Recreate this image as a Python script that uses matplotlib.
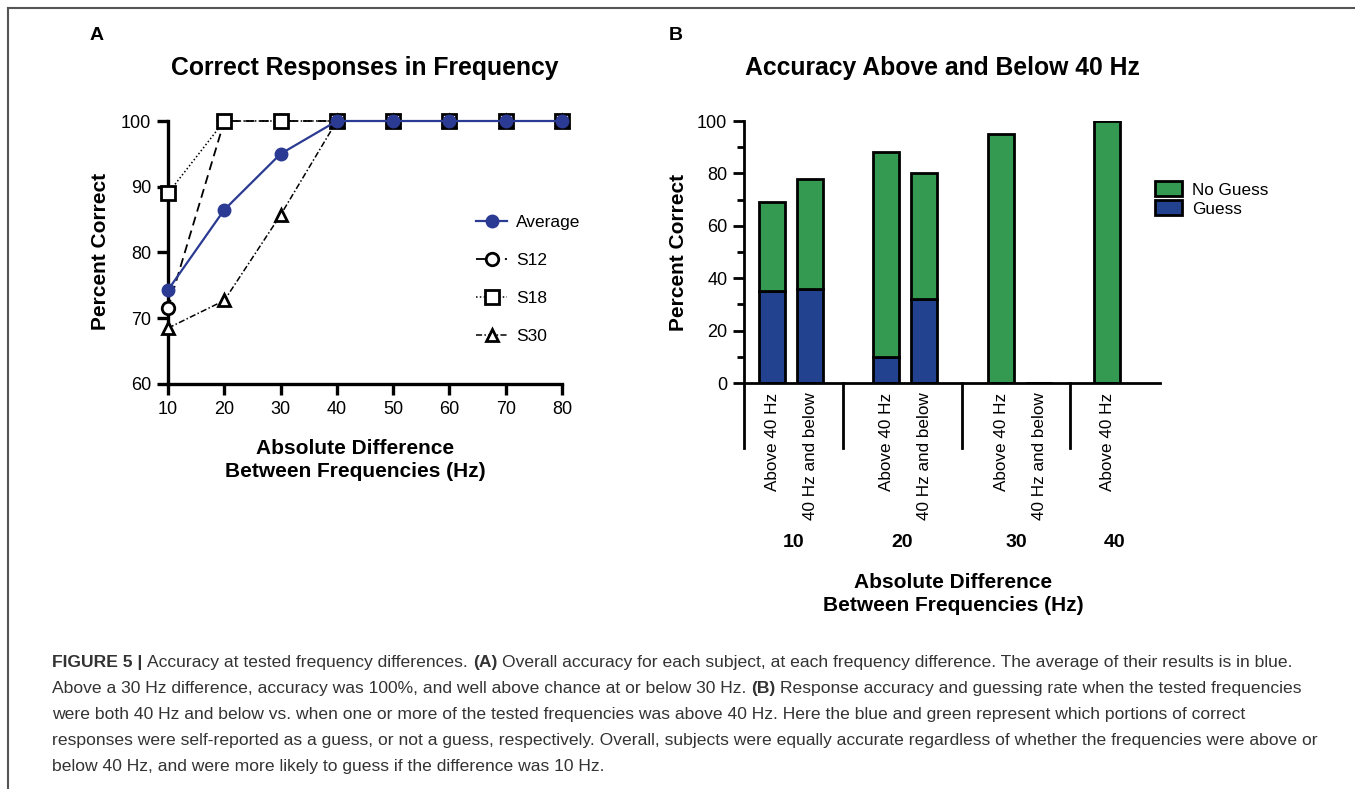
import matplotlib
matplotlib.use('Agg')
import matplotlib.pyplot as plt
from matplotlib.lines import Line2D
from matplotlib.patches import Patch
from matplotlib.transforms import blended_transform_factory

plt.rcParams['font.family'] = ['Liberation Sans', 'DejaVu Sans']

# ---- panel A data
freq_diff = [10, 20, 30, 40, 50, 60, 70, 80]
average = [74.3, 86.5, 95.0, 100, 100, 100, 100, 100]
s12 = [71.5, 100, 100, 100, 100, 100, 100, 100]
s18 = [89.0, 100, 100, 100, 100, 100, 100, 100]
s30 = [68.5, 72.7, 85.7, 100, 100, 100, 100, 100]

# ---- panel B data
bar_labels = ['Above 40 Hz', '40 Hz and below', 'Above 40 Hz', '40 Hz and below',
              'Above 40 Hz', '40 Hz and below', 'Above 40 Hz']
group_labels = ['10', '20', '30', '40']
guess = [35, 36, 10, 32, 0, 0, 0]
no_guess = [34, 42, 78, 48, 95, 0, 100]

# layout of the grouped bars (x positions in bar slots)
bar_pos = [0, 1, 3, 4, 6.03, 7.03, 8.82]
separators = [-0.74, 1.87, 5.0, 7.84]
x_right = 10.21

caption = [
    [("FIGURE 5 |", True), ("Accuracy at tested frequency differences.", False), ("(A)", True),
     ("Overall accuracy for each subject, at each frequency difference. The average of their results is in blue.", False)],
    [("Above a 30 Hz difference, accuracy was 100%, and well above chance at or below 30 Hz.", False), ("(B)", True),
     ("Response accuracy and guessing rate when the tested frequencies", False)],
    [("were both 40 Hz and below vs. when one or more of the tested frequencies was above 40 Hz. "
      "Here the blue and green represent which portions of correct", False)],
    [("responses were self-reported as a guess, or not a guess, respectively. Overall, subjects were "
      "equally accurate regardless of whether the frequencies were above or", False)],
    [("below 40 Hz, and were more likely to guess if the difference was 10 Hz.", False)],
]

green = '#349A52'
blue = '#22428F'
avg_blue = '#2B3A92'
W, H = 1355, 789

fig = plt.figure(figsize=(W / 100, H / 100), dpi=100)

# outer frame (left + top)
fig.add_artist(Line2D([8 / W, 8 / W], [0, 1 - 8 / H], color='#555555', lw=1.5))
fig.add_artist(Line2D([8 / W, 1], [1 - 8 / H, 1 - 8 / H], color='#555555', lw=1.5))

# ================= panel A
axA = fig.add_axes([168 / W, 1 - 384 / H, (562 - 168) / W, (384 - 121) / H])
axA.plot(freq_diff, s12, color='black', lw=1.3, ls=(0, (5, 3)), marker='o', ms=9,
         mfc='white', mec='black', mew=2, clip_on=False, zorder=3, label='S12')
axA.plot(freq_diff, s18, color='black', lw=1.1, ls=(0, (1, 1.5)), marker='s', ms=10,
         mfc='white', mec='black', mew=2, clip_on=False, zorder=3, label='S18')
axA.plot(freq_diff, s30, color='black', lw=1.1, ls=(0, (4, 1.5, 1, 1.5)), marker='^', ms=8,
         mfc='white', mec='black', mew=2, clip_on=False, zorder=3, label='S30')
axA.plot(freq_diff, average, color=avg_blue, lw=1.6, marker='o', ms=9,
         mfc=avg_blue, mec=avg_blue, clip_on=False, zorder=4, label='Average')

axA.set_xlim(10, 80)
axA.set_ylim(60, 100)
axA.set_xticks(freq_diff)
axA.set_yticks([60, 70, 80, 90, 100])
for s in ['top', 'right']:
    axA.spines[s].set_visible(False)
for s in ['left', 'bottom']:
    axA.spines[s].set_linewidth(2.4)
axA.tick_params(width=2.4, length=8, labelsize=13, pad=4)

handles, labels = axA.get_legend_handles_labels()
order = [3, 0, 1, 2]
fig.legend([handles[i] for i in order], [labels[i] for i in order],
           loc='center left', bbox_to_anchor=(476 / W, 1 - 279.5 / H), frameon=False,
           fontsize=12.5, labelspacing=1.3, handlelength=1.8, handletextpad=0.5,
           borderpad=0, borderaxespad=0)

fig.text(365 / W, 1 - 68 / H, 'Correct Responses in Frequency', fontsize=17.8,
         fontweight='bold', ha='center', va='center')
fig.text(97 / W, 1 - 35 / H, 'A', fontsize=14, fontweight='bold', ha='center', va='center')
fig.text(100 / W, 1 - 251 / H, 'Percent Correct', fontsize=15, fontweight='bold',
         rotation=90, ha='center', va='center')
fig.text(355 / W, 1 - 460 / H, 'Absolute Difference\nBetween Frequencies (Hz)', fontsize=15,
         fontweight='bold', ha='center', va='center', linespacing=1.25)

# ================= panel B
axB = fig.add_axes([744 / W, 1 - 383 / H, (1160 - 744) / W, (383 - 121) / H])
axB.bar(bar_pos, guess, width=0.68, color=blue, edgecolor='black', linewidth=2, label='Guess')
axB.bar(bar_pos, no_guess, width=0.68, bottom=guess, color=green, edgecolor='black',
        linewidth=2, label='No Guess')
axB.set_xlim(separators[0], x_right)
axB.set_ylim(0, 100)
axB.set_yticks([0, 20, 40, 60, 80, 100])
axB.set_yticks([10, 30, 50, 70, 90], minor=True)
axB.set_xticks(bar_pos)
axB.set_xticklabels(bar_labels, rotation=90, va='top', ha='center')
axB.tick_params(axis='x', length=0, labelsize=12.3, pad=7)
axB.tick_params(axis='y', which='major', width=2, length=8, labelsize=13, pad=4)
axB.tick_params(axis='y', which='minor', width=2, length=5)
for s in ['top', 'right']:
    axB.spines[s].set_visible(False)
for s in ['left', 'bottom']:
    axB.spines[s].set_linewidth(2)

trB = blended_transform_factory(axB.transData, axB.transAxes)
for sx in separators:
    axB.plot([sx, sx], [0, -0.248], color='black', lw=2, transform=trB, clip_on=False)
group_edges = separators + [x_right]
for i, g in enumerate(group_labels):
    cx = (group_edges[i] + group_edges[i + 1]) / 2
    axB.text(cx, -0.61, g, transform=trB, fontsize=14, fontweight='bold',
             ha='center', va='center')

fig.legend([Patch(facecolor=green, edgecolor='black', lw=2),
            Patch(facecolor=blue, edgecolor='black', lw=2)], ['No Guess', 'Guess'],
           loc='center left', bbox_to_anchor=(1155 / W, 1 - 199 / H), frameon=False,
           fontsize=12.3, labelspacing=0.15, handlelength=1.6, handleheight=0.95,
           handletextpad=0.55, borderpad=0, borderaxespad=0)

fig.text(942 / W, 1 - 68 / H, 'Accuracy Above and Below 40 Hz', fontsize=17.8,
         fontweight='bold', ha='center', va='center')
fig.text(676 / W, 1 - 35 / H, 'B', fontsize=14, fontweight='bold', ha='center', va='center')
fig.text(678 / W, 1 - 252 / H, 'Percent Correct', fontsize=15, fontweight='bold',
         rotation=90, ha='center', va='center')
fig.text(953 / W, 1 - 594 / H, 'Absolute Difference\nBetween Frequencies (Hz)', fontsize=15,
         fontweight='bold', ha='center', va='center', linespacing=1.25)

# ================= caption with inline bold parts
renderer = fig.canvas.get_renderer()
cap_color = '#333333'


def draw_line(parts, x, y, size):
    # draws the segments one after another, returns the pixel width
    sp = fig.text(0, 0, 'a a', fontsize=size)
    nsp = fig.text(0, 0, 'aa', fontsize=size)
    space = sp.get_window_extent(renderer).width - nsp.get_window_extent(renderer).width
    sp.remove()
    nsp.remove()
    cur = x
    made = []
    for txt, bold in parts:
        t = fig.text(cur / W, 1 - y / H, txt, fontsize=size, color=cap_color,
                     fontweight='bold' if bold else 'normal', ha='left', va='center')
        made.append(t)
        cur = t.get_window_extent(renderer).x1 + space
    return cur - space - x, made


w10, tmp = draw_line(caption[0], 52, 662, 10)
for t in tmp:
    t.remove()
cap_size = 10 * 1245 / w10
for i, line in enumerate(caption):
    draw_line(line, 52, 662 + 26 * i, cap_size)

fig.savefig('out.png', dpi=100)
